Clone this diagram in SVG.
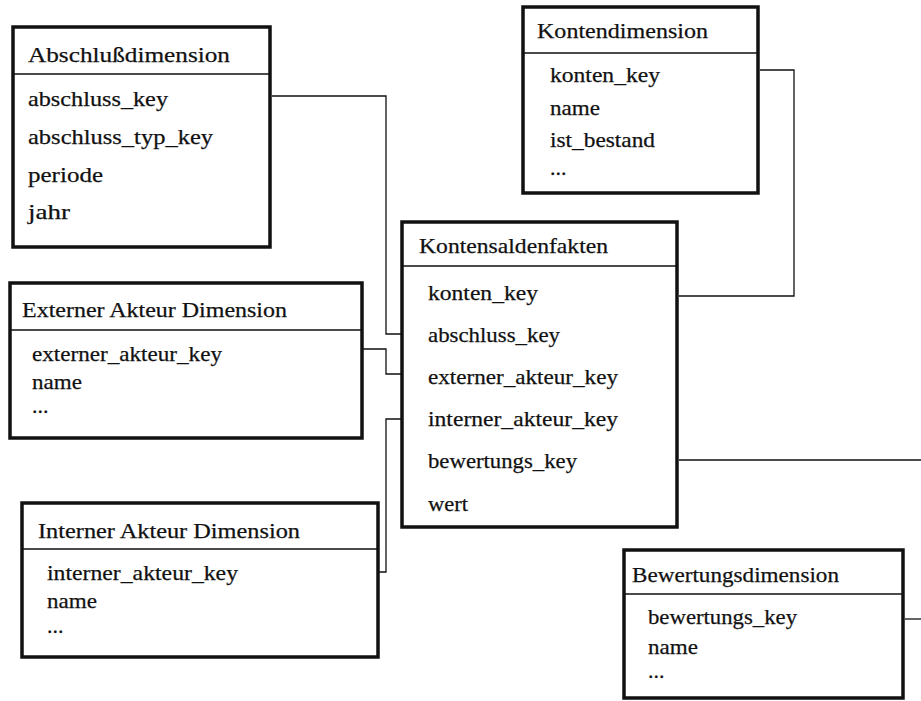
<svg xmlns="http://www.w3.org/2000/svg" width="921" height="701" viewBox="0 0 921 701">
<style>
.box{fill:#fff;stroke:#111;stroke-width:3.5}
.sep{stroke:#111;stroke-width:1.5}
.t{font-family:"Liberation Serif","Times New Roman",serif;font-size:22px;fill:#111;stroke:#111;stroke-width:0.25}
.c{fill:none;stroke:#111;stroke-width:1.3}
</style>
<rect width="921" height="701" fill="#fff"/>
<g id="connectors">
<path class="c" d="M272,96 H386 V334 H402"/>
<path class="c" d="M760,70 H794 V296 H679"/>
<path class="c" d="M362,349 H386 V374 H402"/>
<path class="c" d="M402,419 H386 V572 H378"/>
<path class="c" d="M679,460 H921"/>
<path class="c" d="M905,619 H921"/>
</g>
<g id="abschlussdimension">
<rect class="box" x="13" y="27" width="257" height="220"/>
<line class="sep" x1="13" y1="74" x2="270" y2="74"/>
<text class="t" x="28" y="62" textLength="202" lengthAdjust="spacingAndGlyphs">Abschlußdimension</text>
<text class="t" x="28" y="106" textLength="140" lengthAdjust="spacingAndGlyphs">abschluss_key</text>
<text class="t" x="28" y="144" textLength="185" lengthAdjust="spacingAndGlyphs">abschluss_typ_key</text>
<text class="t" x="28" y="182" textLength="75" lengthAdjust="spacingAndGlyphs">periode</text>
<text class="t" x="28" y="219" textLength="42" lengthAdjust="spacingAndGlyphs">jahr</text>
</g>
<g id="kontendimension">
<rect class="box" x="523" y="7" width="235" height="186"/>
<line class="sep" x1="523" y1="53" x2="758" y2="53"/>
<text class="t" x="537" y="38" textLength="171" lengthAdjust="spacingAndGlyphs">Kontendimension</text>
<text class="t" x="550" y="82" textLength="110" lengthAdjust="spacingAndGlyphs">konten_key</text>
<text class="t" x="550" y="115" textLength="50" lengthAdjust="spacingAndGlyphs">name</text>
<text class="t" x="550" y="147" textLength="105" lengthAdjust="spacingAndGlyphs">ist_bestand</text>
<text class="t" x="550" y="175">...</text>
</g>
<g id="externer-akteur-dimension">
<rect class="box" x="10" y="283" width="352" height="155"/>
<line class="sep" x1="10" y1="330" x2="362" y2="330"/>
<text class="t" x="22" y="317" textLength="265" lengthAdjust="spacingAndGlyphs">Externer Akteur Dimension</text>
<text class="t" x="32" y="361" textLength="190" lengthAdjust="spacingAndGlyphs">externer_akteur_key</text>
<text class="t" x="32" y="389" textLength="50" lengthAdjust="spacingAndGlyphs">name</text>
<text class="t" x="32" y="413">...</text>
</g>
<g id="kontensaldenfakten">
<rect class="box" x="402" y="222" width="275" height="305"/>
<line class="sep" x1="402" y1="266" x2="677" y2="266"/>
<text class="t" x="419" y="253" textLength="189" lengthAdjust="spacingAndGlyphs">Kontensaldenfakten</text>
<text class="t" x="428" y="300" textLength="110" lengthAdjust="spacingAndGlyphs">konten_key</text>
<text class="t" x="428" y="342" textLength="132" lengthAdjust="spacingAndGlyphs">abschluss_key</text>
<text class="t" x="428" y="384" textLength="190" lengthAdjust="spacingAndGlyphs">externer_akteur_key</text>
<text class="t" x="428" y="426" textLength="190" lengthAdjust="spacingAndGlyphs">interner_akteur_key</text>
<text class="t" x="428" y="468" textLength="149" lengthAdjust="spacingAndGlyphs">bewertungs_key</text>
<text class="t" x="428" y="511" textLength="40" lengthAdjust="spacingAndGlyphs">wert</text>
</g>
<g id="interner-akteur-dimension">
<rect class="box" x="22" y="503" width="356" height="154"/>
<line class="sep" x1="22" y1="549" x2="378" y2="549"/>
<text class="t" x="38" y="538" textLength="262" lengthAdjust="spacingAndGlyphs">Interner Akteur Dimension</text>
<text class="t" x="47" y="580" textLength="191" lengthAdjust="spacingAndGlyphs">interner_akteur_key</text>
<text class="t" x="47" y="608" textLength="50" lengthAdjust="spacingAndGlyphs">name</text>
<text class="t" x="47" y="633">...</text>
</g>
<g id="bewertungsdimension">
<rect class="box" x="624" y="550" width="279" height="148"/>
<line class="sep" x1="624" y1="594" x2="903" y2="594"/>
<text class="t" x="632" y="582" textLength="207" lengthAdjust="spacingAndGlyphs">Bewertungsdimension</text>
<text class="t" x="648" y="624" textLength="149" lengthAdjust="spacingAndGlyphs">bewertungs_key</text>
<text class="t" x="648" y="654" textLength="50" lengthAdjust="spacingAndGlyphs">name</text>
<text class="t" x="648" y="678">...</text>
</g>
</svg>
